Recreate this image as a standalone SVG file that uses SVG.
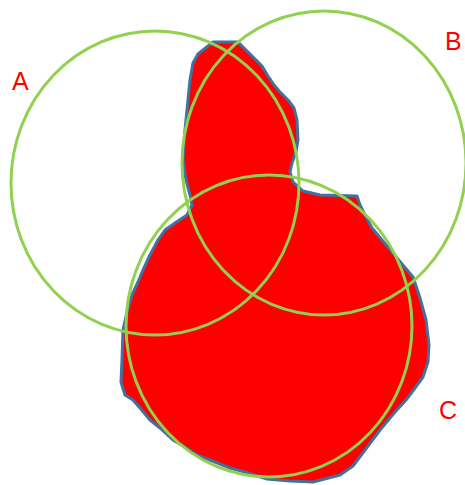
<svg xmlns="http://www.w3.org/2000/svg" width="465" height="485" viewBox="0 0 465 485">
<style>
.blob{fill:#FF0000;stroke:#41719C;stroke-width:3;stroke-linejoin:round}
.set{fill:none;stroke:#92D050;stroke-width:3}
.lbl{fill:#FF0000;font-family:"Liberation Sans",Arial,sans-serif;font-size:25px}
</style>
<rect width="465" height="485" fill="#FFFFFF"/>
<g id="region">
<path class="blob" d="M213,42 L238,42 L248,52 L262,66 L268,76 L274,85 L280,92 L288,100 L294,108 L297,120 L298,140 L296,152 L292,163 L290,172 L293,182 L303,191 L320,195 L357,196 L360,205 L365,215 L372,228 L382,240 L392,252 L402,264 L413,277 L420,298 L426,320 L429,345 L428,362 L423,377 L412,392 L406,400 L395,412 L380,430 L365,450 L353,466 L340,475 L313,482 L290,481 L267,479 L245,472 L230,468 L210,460 L197,455 L185,447 L173,440 L160,428 L150,420 L140,408 L133,400 L125,395 L121,382 L122,360 L123,330 L127,312 L132,295 L138,282 L143,270 L150,255 L158,240 L165,230 L175,223 L187,215 L192,205 L190,195 L186,180 L183,160 L185,130 L188,100 L190,80 L193,63 L198,54 Z"/>
</g>
<g id="setA">
<ellipse class="set" cx="155" cy="183" rx="144" ry="152"/>
<text class="lbl" x="12" y="90">A</text>
</g>
<g id="setB">
<ellipse class="set" cx="324" cy="163" rx="142" ry="152"/>
<text class="lbl" x="445" y="50">B</text>
</g>
<g id="setC">
<ellipse class="set" cx="269" cy="326" rx="143" ry="151"/>
<text class="lbl" x="439" y="419">C</text>
</g>
<g id="connectors"></g>
</svg>
